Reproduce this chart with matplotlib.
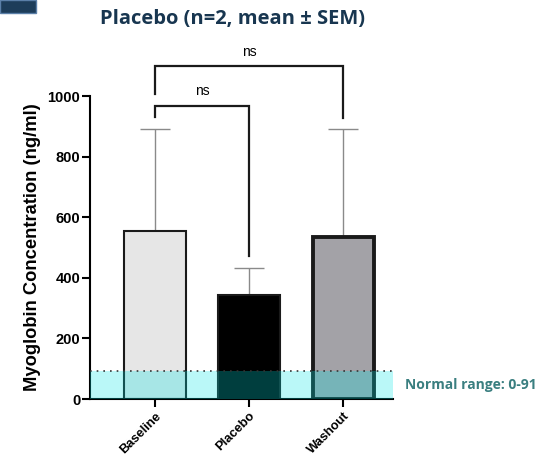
import numpy as np
import matplotlib
matplotlib.use("Agg")
import matplotlib.pyplot as plt
from matplotlib.patches import Rectangle

plt.rcParams['font.family'] = ['Liberation Sans', 'DejaVu Sans']

# data
groups = ["Baseline", "Placebo", "Washout"]
means = [554, 343, 536]
sem = [337, 90, 354]
normal_hi = 91
bar_colors = ["#e6e6e6", "#000000", "#a3a2a7"]
edge_widths = [1.5, 1.5, 2.8]

fig = plt.figure(figsize=(5.41, 4.59), dpi=100)
ax = fig.add_axes([0.1664, 0.1307, 0.56, 0.6601])

x = np.arange(len(groups))
ax.bar(x, means, width=0.65, color=bar_colors, edgecolor="#1a1a1a",
       linewidth=edge_widths, zorder=2)
ax.errorbar(x, means, yerr=[np.zeros(len(sem)), sem], fmt="none",
            ecolor="#8a8a8a", elinewidth=1.0, capsize=11, capthick=1.0, zorder=1)

# normal range band
ax.axhspan(0, normal_hi, color="#00e6e6", alpha=0.27, linewidth=0, zorder=3)
ax.axhline(normal_hi, color="#333333", linestyle=(0, (1, 3)), linewidth=1.2, zorder=4)
ax.text(2.655, 45, "Normal range: 0-91", color="#3a7f80", fontsize=10,
        fontweight="bold", family="Open Sans", va="center", ha="left", clip_on=False)

ax.set_xlim(-0.69, 2.53)
ax.set_ylim(0, 1000)
ax.set_yticks([0, 200, 400, 600, 800, 1000])
ax.set_xticks(x)
ax.set_xticklabels(groups, rotation=45, ha="right", rotation_mode="anchor",
                   fontweight="bold", fontsize=9.3)
for lab in ax.get_yticklabels():
    lab.set_fontweight("bold")
    lab.set_fontsize(10.5)
ax.tick_params(axis="both", width=1.5, length=6, direction="out")
ax.tick_params(axis="y", pad=1)
ax.tick_params(axis="x", pad=2)
for s in ["top", "right"]:
    ax.spines[s].set_visible(False)
for s in ["left", "bottom"]:
    ax.spines[s].set_linewidth(1.5)

ax.set_ylabel("Myoglobin Concentration (ng/ml)", fontweight="bold", fontsize=13.2, labelpad=5)

# significance brackets
def bracket(x1, x2, top, y1, y2, label, ty):
    ax.plot([x1, x1, x2, x2], [y1, top, top, y2], color="#1a1a1a", lw=1.6,
            clip_on=False, zorder=5, solid_joinstyle="miter")
    ax.text((x1 + x2) / 2, ty, label, ha="center", va="center", fontsize=10, clip_on=False)

bracket(0, 1, 968, 932, 473, "ns", 1015)
bracket(0, 2, 1100, 1007, 928, "ns", 1145)

fig.text(0.43, 0.958, "Placebo (n=2, mean \u00b1 SEM)", ha="center", va="center",
         fontsize=14.5, fontweight="bold", family="Open Sans", color="#183650")
fig.patches.append(Rectangle((0, 1 - 13 / 459), 36 / 541, 13 / 459, transform=fig.transFigure,
                             facecolor="#1d3d5a", edgecolor="#5a7fa8", linewidth=1.0))

fig.savefig("out.png", dpi=100)
